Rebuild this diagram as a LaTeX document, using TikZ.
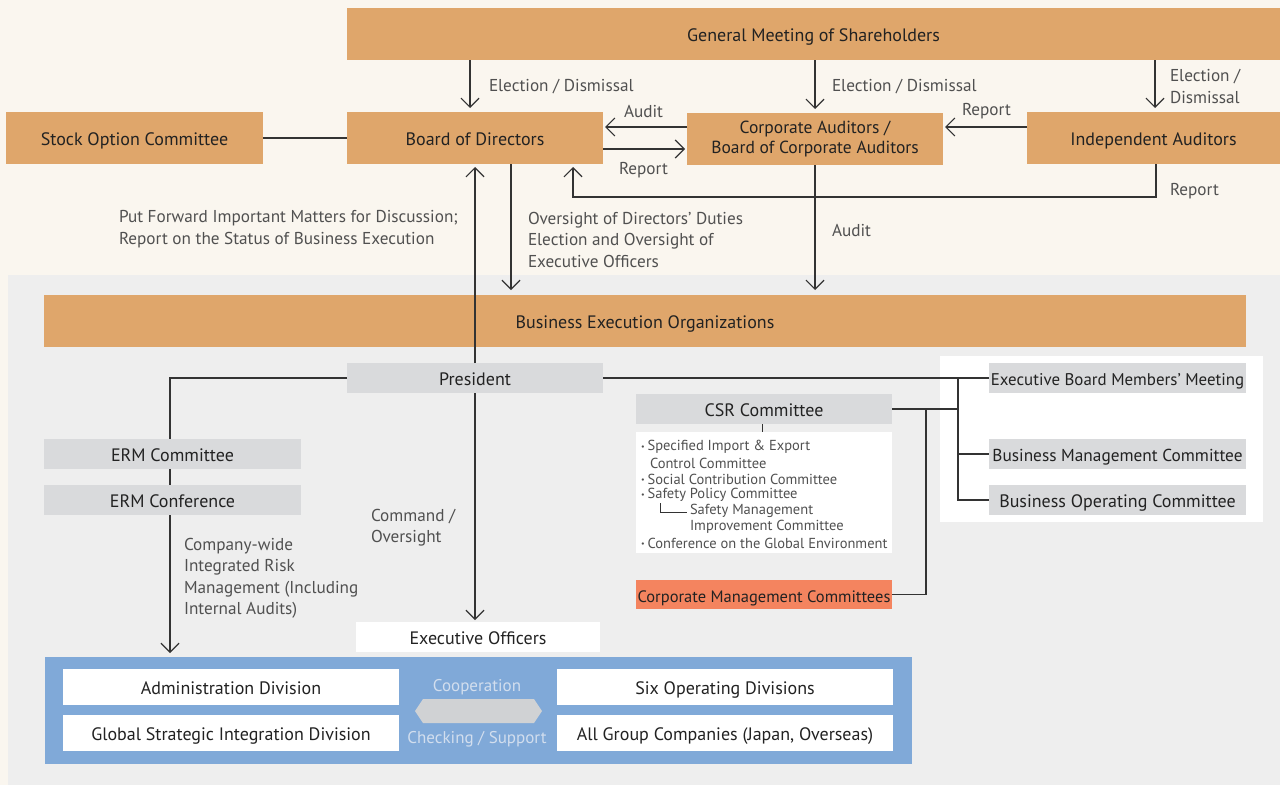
\documentclass[tikz,border=0pt]{standalone}
\usepackage{fontspec}
\setmainfont{PT Sans}
\usetikzlibrary{arrows.meta,calc}
\definecolor{cream}{HTML}{FAF6EF}
\definecolor{panelgray}{HTML}{EEEEEE}
\definecolor{boxorange}{HTML}{DFA66B}
\definecolor{boxgray}{HTML}{D9DADC}
\definecolor{salmon}{HTML}{F4845F}
\definecolor{panelblue}{HTML}{80A9D8}
\definecolor{hexgray}{HTML}{D0D2D4}
\definecolor{darktext}{HTML}{222222}
\definecolor{lbltext}{HTML}{505050}
\definecolor{linecol}{HTML}{333333}
\definecolor{paletext}{HTML}{D2DEEE}
\newcommand\bxfont{\fontsize{18}{20.5}\selectfont}
\newcommand\lbfont{\fontsize{17.2}{21.5}\selectfont}
\newcommand\smfont{\fontsize{14.5}{16}\selectfont}
\newcommand\bul{{\fontsize{8}{8}\selectfont\raisebox{1.5pt}{•}}\hspace{3pt}}
\begin{document}
\begin{tikzpicture}[x=1pt,y=-1pt,
  every node/.style={inner sep=0pt, outer sep=0pt},
  tx/.style={text height=16.5pt, text depth=1.5pt},
  ob/.style={fill=boxorange, text=darktext, font=\bxfont, minimum height=52pt, align=center},
  gb/.style={tx, fill=boxgray, text=darktext, font=\bxfont, minimum height=30pt, minimum width=257pt},
  wb/.style={tx, fill=white, text=darktext, font=\bxfont, minimum height=36pt, minimum width=336pt},
  lbl/.style={font=\lbfont, text=lbltext, anchor=west, align=left},
  sm/.style={font=\smfont, text=lbltext, anchor=west},
  conn/.style={draw=linecol, line width=1.2pt},
  arr/.style={conn, -{Straight Barb[length=9pt,width=18pt,line width=1.2pt]}},
]
\useasboundingbox (0,0) rectangle (1280,785);
% backgrounds
\fill[cream] (0,0) rectangle (1280,785);
\fill[panelgray] (8,275) rectangle (1280,785);
\fill[white] (940,356) rectangle (1263,522);

% top boxes
\node[ob, tx, minimum width=933pt] (gm) at (813.5,34) {General Meeting of Shareholders};
\node[ob, tx, minimum width=257pt] (soc) at (134.5,138) {Stock Option Committee};
\node[ob, tx, minimum width=256pt] (bod) at (475,138) {Board of Directors};
\node[ob, minimum width=256pt, font=\fontsize{17.5}{20}\selectfont] (ca) at (815,139) {Corporate Auditors /\\Board of Corporate Auditors};
\node[ob, tx, minimum width=253pt] (ia) at (1153.5,138) {Independent Auditors};
\node[ob, tx, minimum width=1202pt] (beo) at (645,321) {Business Execution Organizations};

% execution boxes
\node[gb, minimum width=256pt] (pres) at (475,378) {President};
\node[gb, font=\fontsize{16.9}{19}\selectfont] (ebm) at (1117.5,378) {Executive Board Members’ Meeting};
\node[gb, font=\fontsize{17.3}{19}\selectfont] (bmc) at (1117.5,454) {Business Management Committee};
\node[gb] (boc) at (1117.5,500) {Business Operating Committee};
\node[gb, minimum width=256pt] (csr) at (764,409) {CSR Committee};
\node[fill=white, minimum width=256pt, minimum height=121pt] (csrlist) at (764,492.5) {};
\node[tx, fill=salmon, text=darktext, font=\fontsize{16.5}{19}\selectfont, minimum width=256pt, minimum height=29pt] (cmc) at (764,594.5) {Corporate Management Committees};
\node[gb] (ermc) at (172.5,454) {ERM Committee};
\node[gb] (ermf) at (172.5,500) {ERM Conference};
\node[tx, fill=white, text=darktext, font=\bxfont, minimum width=244pt, minimum height=30pt] (eo) at (478,637) {Executive Officers};

% CSR list
\node[sm] (l1) at (641,447) {\bul Specified Import \& Export};
\node[sm] (l2) at (650,463) {Control Committee};
\node[sm] (l3) at (641,479) {\bul Social Contribution Committee};
\node[sm] (l4) at (641,495) {\bul Safety Policy Committee};
\node[sm] (l5) at (690,511) {Safety Management};
\node[sm] (l6) at (690,527) {Improvement Committee};
\node[sm] (l7) at (641,543) {\bul Conference on the Global Environment};
\draw[conn, line width=1pt] (660.5,503) -- (660.5,512.5) -- (687,512.5);

% blue panel
\node[fill=panelblue, minimum width=867pt, minimum height=107pt] (blue) at (478.5,710.5) {};
\node[wb] (adm) at (231,687) {Administration Division};
\node[wb] (six) at (725,687) {Six Operating Divisions};
\node[wb] (gsi) at (231,733) {Global Strategic Integration Division};
\node[wb] (agc) at (725,733) {All Group Companies (Japan, Overseas)};
\fill[hexgray] (415,711) -- (423,699) -- (534,699) -- (542,711) -- (534,723) -- (423,723) -- cycle;
\node[font=\fontsize{17}{19}\selectfont, text=paletext] (coop) at (477,687) {Cooperation};
\node[font=\fontsize{17}{19}\selectfont, text=paletext] (chk) at (477,739) {Checking / Support};

% top connectors
\draw[arr, shorten >=4pt] (gm.south -| 470,0) -- (bod.north -| 470,0);
\draw[arr, shorten >=4pt] (gm.south -| ca.north) -- (ca.north);
\draw[arr, shorten >=4pt] (gm.south -| 1155,0) -- (ia.north -| 1155,0);
\draw[arr, shorten >=2pt] ([yshift=11pt]bod.east -| ca.west) -- ([yshift=11pt]bod.east);
\draw[arr, shorten >=2pt] ([yshift=-11pt]bod.east) -- ([yshift=-11pt]bod.east -| ca.west);
\draw[arr, shorten >=2pt] ([yshift=11pt]ia.west) -- ([yshift=11pt]ia.west -| ca.east);
\draw[arr, shorten >=3pt] (ia.south -| 1156,0) -- (1156,197) -| ([xshift=-30pt]bod.south east);
\draw[conn] (soc.east) -- (bod.west);
\draw[arr, shorten >=5pt] ([xshift=36pt]bod.south) -- ([xshift=36pt]bod.south |- beo.north);
\draw[arr, shorten >=5pt] (ca.south) -- (ca.south |- beo.north);
\draw[arr, shorten >=3pt] (pres.north) -- (bod.south);

% execution connectors
\draw[conn] (pres.west) -| (170,439);
\draw[conn] (ermc.south -| 170,0) -- (ermf.north -| 170,0);
\draw[arr, shorten >=4pt] (ermf.south -| 170,0) -- (blue.north -| 170,0);
\draw[arr, shorten >=2pt] (pres.south) -- (eo.north -| pres.south);
\draw[conn] (pres.east) -- (ebm.west);
\coordinate (jx) at (958,378);
\draw[conn] (jx) -- (jx |- boc.west) -- (boc.west);
\draw[conn] (jx |- bmc.west) -- (bmc.west);
\draw[conn] (csr.east) -- (csr.east -| jx);
\draw[conn] (cmc.east) -| ([xshift=34pt]csr.east);
\draw[conn, line width=1pt] (csr.south -| 762,0) -- (csrlist.north -| 762,0);

% labels
\node[lbl] (t1) at (489,86.5) {Election / Dismissal};
\node[lbl] (t2) at (832,86.5) {Election / Dismissal};
\node[lbl] (t3) at (1170,86.5) {Election /\\Dismissal};
\node[lbl] (t4) at (624,111.5) {Audit};
\node[lbl] (t5) at (619,170.5) {Report};
\node[lbl] (t6) at (962,111.5) {Report};
\node[lbl] (t7) at (1170,191.5) {Report};
\node[lbl] (t8) at (119,229) {Put Forward Important Matters for Discussion;\\Report on the Status of Business Execution};
\node[lbl] (t9) at (528,239.5) {Oversight of Directors’ Duties\\Election and Oversight of\\Executive Officers};
\node[lbl] (t10) at (832,230.5) {Audit};
\node[lbl] (t11) at (371,527.5) {Command /\\Oversight};
\node[lbl] (t12) at (184,578.5) {Company-wide\\Integrated Risk\\Management (Including\\Internal Audits)};
\end{tikzpicture}
\end{document}
